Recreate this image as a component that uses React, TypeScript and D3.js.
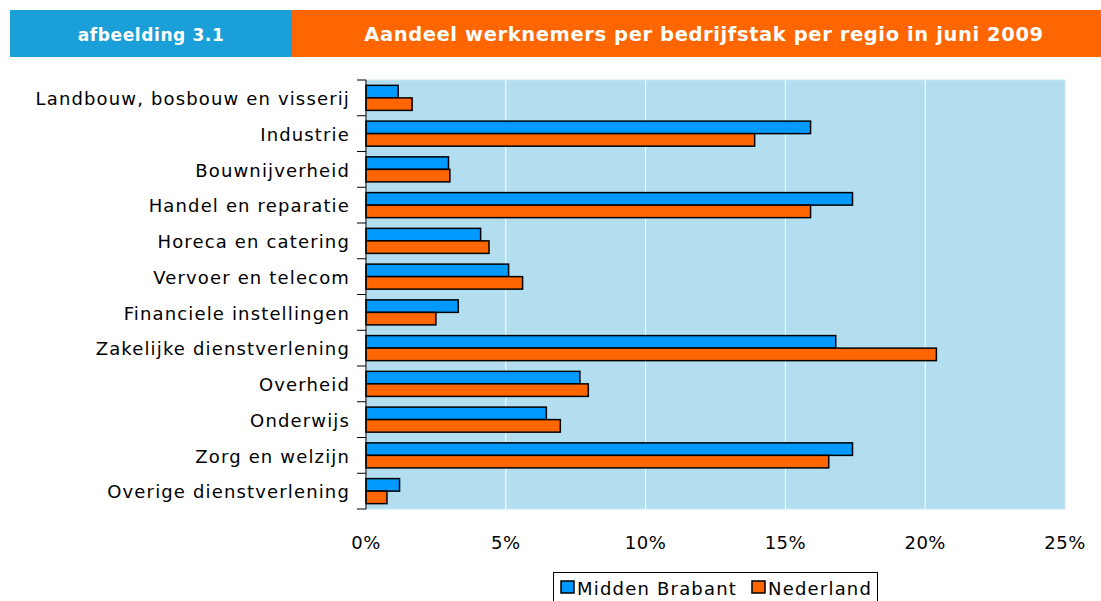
import React, { useEffect, useRef } from "react";
import * as d3 from "d3";

const categories = [
  "Landbouw, bosbouw en visserij",
  "Industrie",
  "Bouwnijverheid",
  "Handel en reparatie",
  "Horeca en catering",
  "Vervoer en telecom",
  "Financiele instellingen",
  "Zakelijke dienstverlening",
  "Overheid",
  "Onderwijs",
  "Zorg en welzijn",
  "Overige dienstverlening",
];
const seriesNames = ["Midden Brabant", "Nederland"];
const middenBrabant = [1.15, 15.9, 2.95, 17.4, 4.1, 5.1, 3.3, 16.8, 7.65, 6.45, 17.4, 1.2];
const nederland = [1.65, 13.9, 3.0, 15.9, 4.4, 5.6, 2.5, 20.4, 7.95, 6.95, 16.55, 0.75];
const xTicks = [0, 5, 10, 15, 20, 25];

const colors = ["#0099FF", "#FF6600"];
const font = "'DejaVu Sans', Verdana, sans-serif";

export default function App() {
  const ref = useRef<SVGSVGElement>(null);

  useEffect(() => {
    const width = 1101;
    const height = 601;
    const svg = d3.select(ref.current).attr("width", width).attr("height", height);
    svg.selectAll("*").remove();

    // header band
    svg.append("rect").attr("x", 10).attr("y", 10).attr("width", 282).attr("height", 47).attr("fill", "#1B9FD8");
    svg.append("rect").attr("x", 292).attr("y", 10).attr("width", width - 292).attr("height", 47).attr("fill", "#FF6600");
    svg.append("text").attr("x", 151).attr("y", 41).attr("text-anchor", "middle")
      .attr("fill", "#fff").attr("font-family", font).attr("font-weight", "bold").attr("font-size", 17)
      .attr("letter-spacing", 0.6)
      .text("afbeelding 3.1");
    svg.append("text").attr("x", 704).attr("y", 41).attr("text-anchor", "middle")
      .attr("fill", "#fff").attr("font-family", font).attr("font-weight", "bold").attr("font-size", 19.5)
      .attr("letter-spacing", 0.6)
      .text("Aandeel werknemers per bedrijfstak per regio in juni 2009");

    const left = 366, right = 1065, top = 80, bottom = 509;

    const x = d3.scaleLinear().domain([0, 25]).range([left, right]);
    const y = d3.scaleBand().domain(categories).range([top, bottom]).paddingInner(0.3).paddingOuter(0.15);
    const ySub = d3.scaleBand().domain(seriesNames).range([0, y.bandwidth()]);

    svg.append("rect").attr("x", left).attr("y", top).attr("width", right - left).attr("height", bottom - top)
      .attr("fill", "#B2DEF0").attr("stroke", "#C8E8F5").attr("stroke-width", 1);

    // gridlines
    svg.append("g").selectAll("line").data(xTicks.slice(1, -1)).join("line")
      .attr("x1", (d) => x(d)).attr("x2", (d) => x(d)).attr("y1", top).attr("y2", bottom)
      .attr("stroke", "#fff").attr("stroke-width", 1);

    // bars
    const data = [middenBrabant, nederland];
    seriesNames.forEach((name, si) => {
      svg.append("g").selectAll("rect").data(categories).join("rect")
        .attr("x", x(0))
        .attr("y", (c) => (y(c) as number) + (ySub(name) as number))
        .attr("width", (c, i) => x(data[si][i]) - x(0))
        .attr("height", ySub.bandwidth())
        .attr("fill", colors[si])
        .attr("stroke", "#000").attr("stroke-width", 1.5);
    });

    // y axis line and ticks at category boundaries
    const step = (bottom - top) / categories.length;
    const yAxis = svg.append("g");
    yAxis.append("line").attr("x1", left).attr("x2", left).attr("y1", top).attr("y2", bottom)
      .attr("stroke", "#000").attr("stroke-width", 1);
    yAxis.selectAll("line.t").data(d3.range(categories.length + 1)).join("line").attr("class", "t")
      .attr("x1", left - 9).attr("x2", left).attr("y1", (i) => top + i * step).attr("y2", (i) => top + i * step)
      .attr("stroke", "#000").attr("stroke-width", 1);

    // category labels
    svg.append("g").selectAll("text").data(categories).join("text")
      .attr("x", 350)
      .attr("y", (c) => (y(c) as number) + y.bandwidth() / 2 + 1)
      .attr("dy", "0.35em")
      .attr("text-anchor", "end")
      .attr("font-family", font).attr("font-size", 18).attr("letter-spacing", 1.15).attr("fill", "#000")
      .text((c) => c);

    // x tick labels
    svg.append("g").selectAll("text").data(xTicks).join("text")
      .attr("x", (d) => x(d)).attr("y", 549).attr("text-anchor", "middle")
      .attr("font-family", font).attr("font-size", 18).attr("letter-spacing", 0.5).attr("fill", "#000")
      .text((d) => `${d}%`);

    // legend
    const lg = svg.append("g");
    lg.append("rect").attr("x", 553.5).attr("y", 572.5).attr("width", 324).attr("height", 40)
      .attr("fill", "#fff").attr("stroke", "#000").attr("stroke-width", 1);
    const legendX = [561, 752];
    seriesNames.forEach((name, i) => {
      lg.append("rect").attr("x", legendX[i]).attr("y", 581).attr("width", 13).attr("height", 12)
        .attr("fill", colors[i]).attr("stroke", "#000").attr("stroke-width", 1.5);
      lg.append("text").attr("x", legendX[i] + 16).attr("y", 595)
        .attr("font-family", font).attr("font-size", 18).attr("letter-spacing", 1.2).attr("fill", "#000").text(name);
    });
  }, []);

  return <svg ref={ref} style={{ position: "absolute", left: 0, top: 0 }}></svg>;
}
